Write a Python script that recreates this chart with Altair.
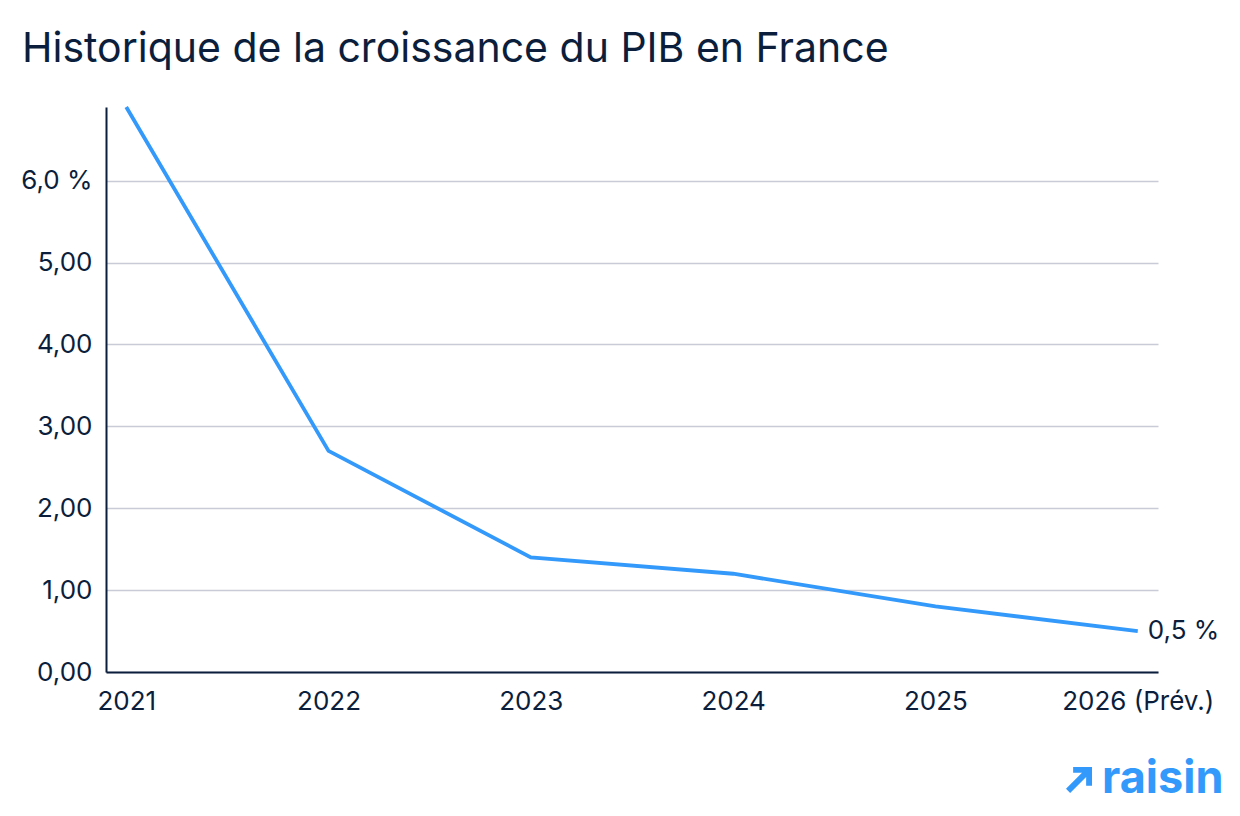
import altair as alt
import pandas as pd

# French GDP growth, yearly (%), last year is a forecast
years = ["2021", "2022", "2023", "2024", "2025", "2026 (Prév.)"]
growth = [6.9, 2.7, 1.4, 1.2, 0.8, 0.5]
y_ticks = [0, 1, 2, 3, 4, 5, 6]

title_text = "Historique de la croissance du PIB en France"
end_label = "0,5 %"
brand = "raisin"

NAVY = "#0b1e3c"
BLUE = "#3399fa"
GRID = "#c9cbd6"
FONT = "Inter"

# brand arrow pointing up-right, drawn as a filled symbol path
ARROW = ("M-0.45,-1L1,-1L1,0.45L0.55,0.45L0.55,-0.23L-0.68,1"
         "L-1,0.68L0.23,-0.55L-0.45,-0.55Z")

df = pd.DataFrame({"annee": years, "croissance": growth})
last = df.tail(1).assign(label=end_label)

x = alt.X(
    "annee:N",
    sort=years,
    scale=alt.Scale(type="point", padding=0.1),
    axis=alt.Axis(
        title=None, labelAngle=0, ticks=False, grid=False,
        domainColor=NAVY, domainWidth=2,
        labelFont=FONT, labelFontSize=26, labelColor=NAVY, labelPadding=16,
    ),
)
y = alt.Y(
    "croissance:Q",
    scale=alt.Scale(domain=[0, 6.9], nice=False, zero=True),
    axis=alt.Axis(
        title=None, values=y_ticks, ticks=False,
        domainColor=NAVY, domainWidth=2,
        gridColor=GRID, gridWidth=1.5,
        labelFont=FONT, labelFontSize=26, labelColor=NAVY, labelPadding=14,
        labelExpr="datum.value == 6 ? '6,0 %' : replace(format(datum.value, '.2f'), '.', ',')",
    ),
)

line = alt.Chart(df).mark_line(color=BLUE, strokeWidth=3.8).encode(x=x, y=y)

end_text = alt.Chart(last).mark_text(
    align="left", baseline="middle", dx=10,
    font=FONT, fontSize=26, color=NAVY,
).encode(x=alt.X("annee:N", sort=years), y="croissance:Q", text="label:N")

title = alt.Chart(pd.DataFrame({"t": [title_text]})).mark_text(
    align="left", baseline="alphabetic",
    font=FONT, fontSize=41, color=NAVY,
).encode(x=alt.value(-84), y=alt.value(-45), text="t:N")

logo_word = alt.Chart(pd.DataFrame({"t": [brand]})).mark_text(
    align="left", baseline="alphabetic",
    font=FONT, fontSize=45, fontWeight="bold", color=BLUE,
).encode(x=alt.value(996), y=alt.value(686), text="t:N")

logo_arrow = alt.Chart(pd.DataFrame({"t": [brand]})).mark_point(
    shape=ARROW, filled=True, color=BLUE, opacity=1, size=676, strokeWidth=0,
).encode(x=alt.value(973), y=alt.value(673))

chart = (
    alt.layer(line, end_text, title, logo_word, logo_arrow)
    .properties(
        width=1052, height=565,
        background="white",
        autosize=alt.AutoSizeParams(type="none"),
        padding={"left": 106, "top": 107, "right": 82, "bottom": 144},
    )
    .configure_view(stroke="transparent", strokeWidth=0)
)

chart.save("out.html", embed_options={"renderer": "svg", "actions": False})
